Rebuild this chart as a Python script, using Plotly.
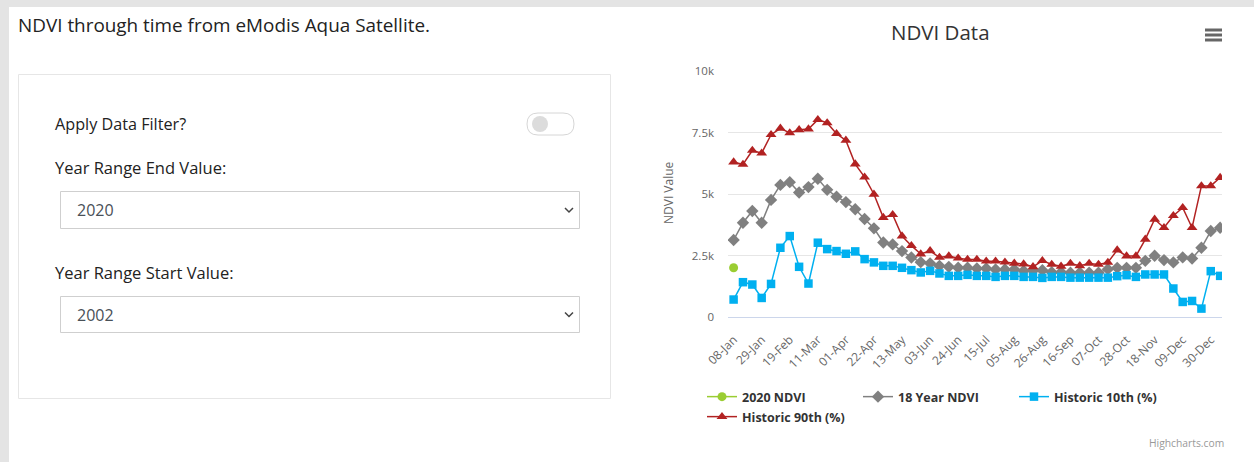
import plotly.graph_objects as go

# ---------------- data ----------------
categories = ["08-Jan", "15-Jan", "22-Jan", "29-Jan", "05-Feb", "12-Feb", "19-Feb", "26-Feb",
              "04-Mar", "11-Mar", "18-Mar", "25-Mar", "01-Apr", "08-Apr", "15-Apr", "22-Apr",
              "29-Apr", "06-May", "13-May", "20-May", "27-May", "03-Jun", "10-Jun", "17-Jun",
              "24-Jun", "01-Jul", "08-Jul", "15-Jul", "22-Jul", "29-Jul", "05-Aug", "12-Aug",
              "19-Aug", "26-Aug", "02-Sep", "09-Sep", "16-Sep", "23-Sep", "30-Sep", "07-Oct",
              "14-Oct", "21-Oct", "28-Oct", "04-Nov", "11-Nov", "18-Nov", "25-Nov", "02-Dec",
              "09-Dec", "16-Dec", "23-Dec", "30-Dec", "06-Jan "]

ndvi_2020 = [2000] + [None] * 52

ndvi_18yr = [3130, 3830, 4310, 3830, 4760, 5370, 5480, 5060, 5280, 5620,
             5170, 4890, 4670, 4380, 3985, 3605, 3030, 2950, 2680, 2420,
             2230, 2180, 2080, 2040, 2000, 2000, 1973, 1973, 1933, 1933,
             1933, 1876, 1876, 1900, 1820, 1820, 1800, 1800, 1800, 1800,
             1945, 1998, 1998, 1998, 2284, 2488, 2312, 2218, 2422, 2380,
             2814, 3495, 3630]

hist_10th = [710, 1415, 1320, 775, 1345, 2814, 3290, 2040, 1360, 3020,
             2760, 2680, 2570, 2667, 2353, 2220, 2080, 2080, 2000, 1905,
             1811, 1876, 1770, 1672, 1672, 1713, 1672, 1672, 1631, 1672,
             1672, 1631, 1631, 1590, 1631, 1631, 1600, 1600, 1600, 1600,
             1600, 1660, 1700, 1631, 1729, 1729, 1729, 1158, 612, 652,
             342, 1864, 1672]

hist_90th = [6300, 6200, 6770, 6660, 7410, 7670, 7480, 7610, 7640, 8020,
             7890, 7450, 7180, 6215, 5685, 4990, 4040, 4160, 3290, 2900,
             2560, 2690, 2420, 2475, 2390, 2340, 2340, 2270, 2270, 2230,
             2180, 2150, 2040, 2290, 2137, 2060, 2178, 2080, 2178, 2137,
             2218, 2720, 2475, 2475, 3156, 3972, 3630, 4119, 4446, 3630,
             5330, 5330, 5669]

x_tick_labels = categories[0:52:3]
y_tick_values = [0, 2500, 5000, 7500, 10000]
y_tick_labels = ["0", "2.5k", "5k", "7.5k", "10k"]

# ---------------- page geometry (pixels) ----------------
W, H = 1254, 462
PL, PR, PT, PB = 728, 1222, 71, 317


def px(x):
    return (x - PL) / (PR - PL)


def py(y):
    return (PB - y) / (PB - PT)


FONT = "Open Sans"

fig = go.Figure()

series = [
    ("2020 NDVI", ndvi_2020, "#9acd32", "circle", 9, "legend"),
    ("18 Year NDVI", ndvi_18yr, "#808080", "diamond", 9.5, "legend"),
    ("Historic 10th (%)", hist_10th, "#00b0f0", "square", 8.5, "legend"),
    ("Historic 90th (%)", hist_90th, "#b22222", "triangle-up", 9.5, "legend2"),
]
for name, vals, col, sym, size, leg in series:
    fig.add_trace(go.Scatter(
        x=categories, y=vals, name=name, mode="lines+markers",
        line=dict(color=col, width=1.5),
        marker=dict(color=col, symbol=sym, size=size),
        legend=leg,
    ))

shapes = []
# page chrome
shapes.append(dict(type="rect", xref="paper", yref="paper", x0=px(0), x1=px(W), y0=py(0), y1=py(7),
                   fillcolor="#e4e4e4", line=dict(width=0), layer="below"))
shapes.append(dict(type="rect", xref="paper", yref="paper", x0=px(0), x1=px(9), y0=py(0), y1=py(H),
                   fillcolor="#e4e4e4", line=dict(width=0), layer="below"))
# filter panel
shapes.append(dict(type="rect", xref="paper", yref="paper", x0=px(18.5), x1=px(610.5), y0=py(74.5), y1=py(398.5),
                   fillcolor="white", line=dict(color="#e6e6e6", width=1), layer="below"))
# toggle
tx0, tx1, ty0, ty1, r = 527, 574, 113, 135, 11
path = (f"M {px(tx0 + r)} {py(ty0)} L {px(tx1 - r)} {py(ty0)} "
        f"Q {px(tx1)} {py(ty0)} {px(tx1)} {py(ty0 + r)} Q {px(tx1)} {py(ty1)} {px(tx1 - r)} {py(ty1)} "
        f"L {px(tx0 + r)} {py(ty1)} Q {px(tx0)} {py(ty1)} {px(tx0)} {py(ty0 + r)} "
        f"Q {px(tx0)} {py(ty0)} {px(tx0 + r)} {py(ty0)} Z")
shapes.append(dict(type="path", xref="paper", yref="paper", path=path,
                   fillcolor="white", line=dict(color="#d6d6d6", width=1)))
shapes.append(dict(type="circle", xref="paper", yref="paper", x0=px(532), x1=px(548), y0=py(116), y1=py(132),
                   fillcolor="#dcdcdc", line=dict(width=0)))
# selects
for y0, y1 in [(191.5, 228.5), (296.5, 332.5)]:
    shapes.append(dict(type="rect", xref="paper", yref="paper", x0=px(60.5), x1=px(579.5), y0=py(y0), y1=py(y1),
                       fillcolor="white", line=dict(color="#cfcfcf", width=1)))
    cy = (y0 + y1) / 2
    shapes.append(dict(type="path", xref="paper", yref="paper",
                       path=f"M {px(565)} {py(cy - 2)} L {px(569)} {py(cy + 2)} L {px(573)} {py(cy - 2)}",
                       line=dict(color="#444", width=1.5)))
# hamburger menu
for yy in (30, 35, 40):
    shapes.append(dict(type="line", xref="paper", yref="paper", x0=px(1205), x1=px(1222), y0=py(yy), y1=py(yy),
                       line=dict(color="#666666", width=3)))

annotations = []


def txt(text, x, y, size, color="#333333", xanchor="left", bold=False, angle=0, family=FONT):
    annotations.append(dict(text=f"<b>{text}</b>" if bold else text, x=px(x), y=py(y),
                            xref="paper", yref="paper", xanchor=xanchor, yanchor="middle",
                            showarrow=False, textangle=angle,
                            font=dict(family=family, size=size, color=color)))


txt("NDVI through time from eModis Aqua Satellite.", 16, 25, 18.9, "#222222")
txt("Apply Data Filter?", 53, 124, 16.2, "#222222")
txt("Year Range End Value:", 53, 167, 16.5, "#222222")
txt("2020", 75, 210, 16, "#495057")
txt("Year Range Start Value:", 53, 272, 16.5, "#222222")
txt("2002", 75, 315, 16, "#495057")
txt("NDVI Data", 940, 32, 20.5, "#333333", xanchor="center")
txt("NDVI Value", 668, 193, 12, "#666666", xanchor="center", angle=-90)
txt("Highcharts.com", 1226, 443, 10.3, "#999999", xanchor="right")

legend_font = dict(family=FONT, size=12.5, color="#333333", weight="bold")
fig.update_layout(
    width=W, height=H, autosize=False,
    margin=dict(l=PL, r=W - PR, t=PT, b=H - PB, pad=0),
    paper_bgcolor="white", plot_bgcolor="white",
    font=dict(family=FONT, color="#666666"),
    shapes=shapes, annotations=annotations,
    showlegend=True,
    legend=dict(orientation="h", x=px(702), y=py(382), xanchor="left", yanchor="top",
                entrywidth=111, entrywidthmode="pixels", itemwidth=30,
                font=legend_font, bgcolor="rgba(0,0,0,0)", tracegroupgap=0),
    legend2=dict(orientation="h", x=px(702), y=py(402), xanchor="left", yanchor="top",
                 entrywidth=111, entrywidthmode="pixels", itemwidth=30,
                 font=legend_font, bgcolor="rgba(0,0,0,0)", tracegroupgap=0),
    hovermode="x",
)
fig.update_xaxes(
    type="category", categoryorder="array", categoryarray=categories,
    range=[-0.6, 52.2], tickmode="array", tickvals=x_tick_labels, ticktext=x_tick_labels,
    tickangle=-45, tickfont=dict(family=FONT, size=12, color="#666666"),
    showgrid=False, showline=True, linecolor="#ccd6eb", linewidth=1,
    ticks="", zeroline=False, fixedrange=True, ticklabelstandoff=10,
)
fig.update_yaxes(
    range=[0, 10000], tickmode="array", tickvals=y_tick_values, ticktext=y_tick_labels,
    tickfont=dict(family=FONT, size=11.5, color="#666666"),
    showgrid=True, gridcolor="#e6e6e6", gridwidth=1, zeroline=False, showline=False,
    ticks="", ticklabelstandoff=13, fixedrange=True,
)

fig.write_html("out.html", config={"displayModeBar": False},
               post_script="document.body.style.margin='0';")
